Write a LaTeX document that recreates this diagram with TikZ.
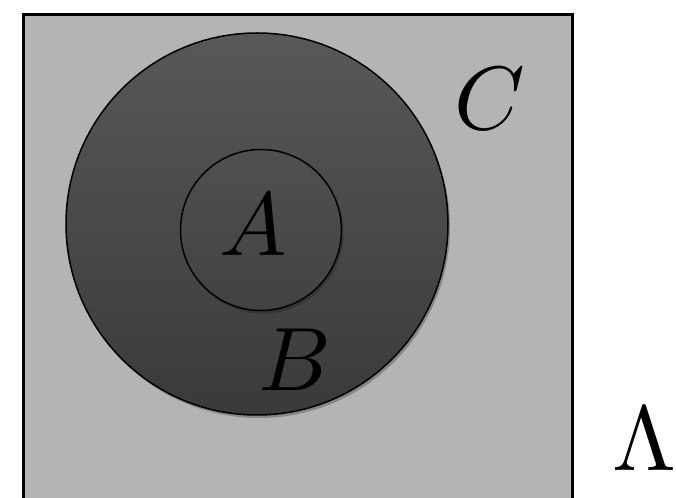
\documentclass[tikz,border=0pt]{standalone}
\usetikzlibrary{shadows}
\begin{document}
\begin{tikzpicture}[x=1pt,y=1pt,
  lbl/.style={inner sep=0pt},
  ring/.style={circle, draw=black, line width=1.5pt, inner sep=0pt}]
\useasboundingbox (0,0) rectangle (676,497);
\clip (0,0) rectangle (676,497);
\fill[white] (0,0) rectangle (676,497);
\node[draw=black, line width=3pt, fill={rgb,255:red,180;green,180;blue,180}, minimum width=549pt, minimum height=500pt, inner sep=0pt, anchor=north west] (C) at (22,484) {};
\node[ring, minimum size=382pt, top color={rgb,255:red,88;green,88;blue,88}, bottom color={rgb,255:red,58;green,58;blue,58},
  drop shadow={shadow xshift=2pt, shadow yshift=-3pt, opacity=0.25, fill=black}] (B) at (257,273) {};
\node[ring, minimum size=161pt, top color={rgb,255:red,80;green,80;blue,80}, bottom color={rgb,255:red,66;green,66;blue,66},
  drop shadow={shadow xshift=2pt, shadow yshift=-3pt, opacity=0.2, fill=black}] (A) at (261,267) {};
\node[lbl] (la) at (253,272) {\scalebox{9}{$A$}};
\node[lbl] (lb) at (295,137) {\scalebox{9}{$B$}};
\node[lbl] (lc) at (490,398) {\scalebox{9}{$C$}};
\node[lbl] (ll) at (644,58) {\scalebox{9.2}{$\Lambda$}};
\end{tikzpicture}
\end{document}
